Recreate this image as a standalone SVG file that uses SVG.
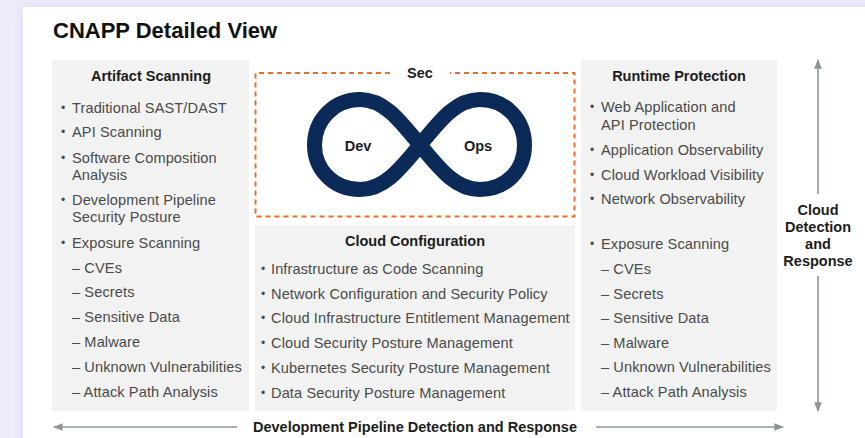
<svg xmlns="http://www.w3.org/2000/svg" width="865" height="438" viewBox="0 0 865 438">
<defs>
<style>
.t{font-family:"Liberation Sans",Arial,sans-serif;font-size:14.6px;letter-spacing:0.1px;fill:#4a4a4a}
.b{font-family:"Liberation Sans",Arial,sans-serif;font-size:12px;fill:#4a4a4a}
.h{font-family:"Liberation Sans",Arial,sans-serif;font-size:14.5px;font-weight:bold;fill:#1c1c1c;text-anchor:middle}
.p{fill:#f2f2f2}
.ar{stroke:#8c9696;stroke-width:1.6;fill:none}
</style>
<marker id="ah" viewBox="0 0 10 10" refX="9" refY="5" markerWidth="6" markerHeight="6" orient="auto-start-reverse">
<path d="M0,1 L10,5 L0,9 Z" fill="#8c9696"/>
</marker>
<filter id="sh" x="-5%" y="-5%" width="110%" height="110%">
<feGaussianBlur stdDeviation="6"/>
</filter>
</defs>
<rect width="865" height="438" fill="#ecebfb"/>
<rect x="23" y="7" width="860" height="450" fill="#d9d8f5" filter="url(#sh)"/>
<rect x="23" y="7" width="860" height="450" fill="#ffffff"/>
<text x="53" y="38" font-family="'Liberation Sans',Arial,sans-serif" font-size="22" font-weight="bold" fill="#111">CNAPP Detailed View</text>

<g id="artifact-scanning">
<rect class="p" x="52" y="60" width="197" height="351"/>
<text class="h" x="151" y="81">Artifact Scanning</text>
<text class="b" x="61" y="112">•</text><text class="t" x="72" y="113">Traditional SAST/DAST</text>
<text class="b" x="61" y="136">•</text><text class="t" x="72" y="137">API Scanning</text>
<text class="b" x="61" y="162">•</text><text class="t" x="72" y="163">Software Composition</text>
<text class="t" x="72" y="180">Analysis</text>
<text class="b" x="61" y="204">•</text><text class="t" x="72" y="205">Development Pipeline</text>
<text class="t" x="72" y="222">Security Posture</text>
<text class="b" x="61" y="247">•</text><text class="t" x="72" y="248">Exposure Scanning</text>
<text class="t" x="72" y="273">– CVEs</text>
<text class="t" x="72" y="297">– Secrets</text>
<text class="t" x="72" y="322">– Sensitive Data</text>
<text class="t" x="72" y="347">– Malware</text>
<text class="t" x="72" y="372">– Unknown Vulnerabilities</text>
<text class="t" x="72" y="397">– Attack Path Analysis</text>
</g>

<g id="devsecops">
<path d="M390,73 H255.5 V216.5 H574.5 V73 H450" fill="none" stroke="#f26a2a" stroke-width="2" stroke-dasharray="5,4"/>
<text class="h" x="420" y="78">Sec</text>
<path d="M420,145 C442,118 457,99.5 480,99.5 C506,99.5 524.5,120 524.5,145 C524.5,170 506,189.5 480,189.5 C457,189.5 442,172 420,145 C398,118 383,99.5 360,99.5 C334,99.5 314.5,120 314.5,145 C314.5,170 334,189.5 360,189.5 C383,189.5 398,172 420,145 Z" fill="none" stroke="#0b2a58" stroke-width="15" stroke-linejoin="round"/>
<text class="h" x="358" y="151">Dev</text>
<text class="h" x="478" y="151">Ops</text>
</g>

<g id="cloud-configuration">
<rect class="p" x="255" y="225" width="320" height="186"/>
<text class="h" x="415" y="246">Cloud Configuration</text>
<text class="b" x="261" y="273">•</text><text class="t" x="271" y="274">Infrastructure as Code Scanning</text>
<text class="b" x="261" y="298">•</text><text class="t" x="271" y="299">Network Configuration and Security Policy</text>
<text class="b" x="261" y="322">•</text><text class="t" x="271" y="323">Cloud Infrastructure Entitlement Management</text>
<text class="b" x="261" y="347">•</text><text class="t" x="271" y="348">Cloud Security Posture Management</text>
<text class="b" x="261" y="372">•</text><text class="t" x="271" y="373">Kubernetes Security Posture Management</text>
<text class="b" x="261" y="397">•</text><text class="t" x="271" y="398">Data Security Posture Management</text>
</g>

<g id="runtime-protection">
<rect class="p" x="581" y="60" width="196" height="351"/>
<text class="h" x="679" y="81">Runtime Protection</text>
<text class="b" x="590" y="111">•</text><text class="t" x="601" y="112">Web Application and</text>
<text class="t" x="601" y="130">API Protection</text>
<text class="b" x="590" y="154">•</text><text class="t" x="601" y="155">Application Observability</text>
<text class="b" x="590" y="179">•</text><text class="t" x="601" y="180">Cloud Workload Visibility</text>
<text class="b" x="590" y="203">•</text><text class="t" x="601" y="204">Network Observability</text>
<text class="b" x="590" y="248">•</text><text class="t" x="601" y="249">Exposure Scanning</text>
<text class="t" x="601" y="274">– CVEs</text>
<text class="t" x="601" y="299">– Secrets</text>
<text class="t" x="601" y="323">– Sensitive Data</text>
<text class="t" x="601" y="348">– Malware</text>
<text class="t" x="601" y="372">– Unknown Vulnerabilities</text>
<text class="t" x="601" y="397">– Attack Path Analysis</text>
</g>

<g id="connectors">
<line class="ar" x1="818" y1="194" x2="818" y2="60" marker-end="url(#ah)"/>
<line class="ar" x1="818" y1="276" x2="818" y2="411" marker-end="url(#ah)"/>
<line class="ar" x1="237" y1="427" x2="54" y2="427" marker-end="url(#ah)"/>
<line class="ar" x1="596" y1="427" x2="783" y2="427" marker-end="url(#ah)"/>
</g>

<g id="cloud-detection-and-response">
<text class="h" x="818" y="215">Cloud</text>
<text class="h" x="818" y="232">Detection</text>
<text class="h" x="818" y="249">and</text>
<text class="h" x="818" y="266">Response</text>
</g>

<g id="dev-pipeline-detection-and-response">
<text class="h" x="415" y="432" textLength="324" lengthAdjust="spacingAndGlyphs">Development Pipeline Detection and Response</text>
</g>
</svg>
